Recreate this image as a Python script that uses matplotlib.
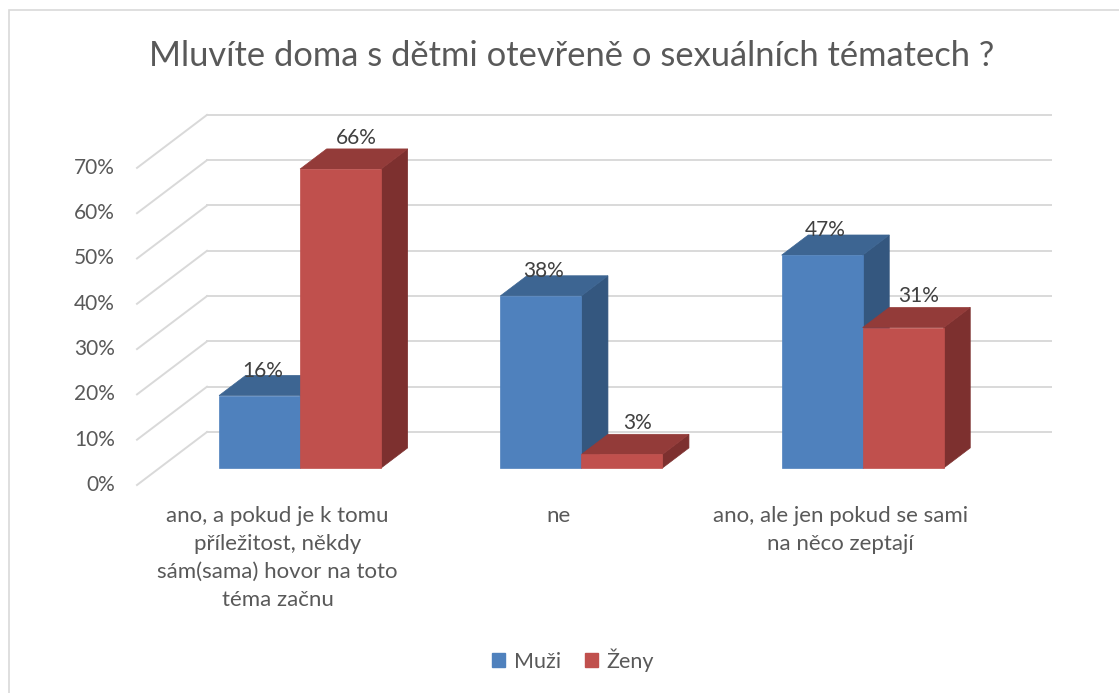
import matplotlib
matplotlib.use("Agg")
import matplotlib.pyplot as plt
from matplotlib.patches import Polygon, Rectangle, Patch

plt.rcParams['font.family'] = ['Lato', 'DejaVu Sans']

# data
categories = [
    "ano, a pokud je k tomu\npříležitost, někdy\nsám(sama) hovor na toto\ntéma začnu",
    "ne",
    "ano, ale jen pokud se sami\nna něco zeptají",
]
series_names = ["Muži", "Ženy"]
muzi = [16, 38, 47]
zeny = [66, 3, 31]
yticks = [0, 10, 20, 30, 40, 50, 60, 70]

# styles
front_colors = ["#4F81BD", "#C0504D"]
top_colors = ["#3D6592", "#933B39"]
side_colors = ["#34577F", "#7D302F"]
grid_color = "#D9D9D9"
text_color = "#595959"

W_PX, H_PX = 1119, 693
fig = plt.figure(figsize=(W_PX / 100, H_PX / 100), dpi=100)

# pixel -> data mapping of the plot (front floor edge spans 0..3 categories)
x0_px, cat_px = 137.0, 281.3
y0_px, pct_px = 485.0, 4.53
ax = fig.add_axes([0, 0, 1, 1])
ax.set_xlim((0 - x0_px) / cat_px, (W_PX - x0_px) / cat_px)
ax.set_ylim((y0_px - H_PX) / pct_px, (y0_px - 0) / pct_px)
ax.axis("off")

DX = 70 / cat_px      # full depth of the plot, x part
DY = 53 / pct_px      # full depth of the plot, y part
z_front, z_back = 0.32, 0.70
bar_w = 81 / cat_px
n = len(categories)

# walls
for v in yticks:
    ax.plot([DX, n + DX], [v + DY, v + DY], color=grid_color, lw=1.4, zorder=1)
    ax.plot([0, DX], [v, v + DY], color=grid_color, lw=1.4, zorder=1)
    ax.text(-0.078, v, f"{v}%", ha="right", va="center", fontsize=15,
            color=text_color)

label_dx = [0.01, 0.055]
label_dy = [-0.3, 1.1]

for i in range(n):
    for s, vals in enumerate([muzi, zeny]):
        v = vals[i]
        xl = i + 0.5 - bar_w + s * bar_w
        xr = xl + bar_w
        fx, fy = z_front * DX, z_front * DY
        bx, by = z_back * DX, z_back * DY
        side = Polygon([(xr + fx, fy), (xr + bx, by), (xr + bx, v + by), (xr + fx, v + fy)],
                       closed=True, facecolor=side_colors[s], edgecolor=side_colors[s],
                       lw=0.5, zorder=2)
        top = Polygon([(xl + fx, v + fy), (xr + fx, v + fy), (xr + bx, v + by), (xl + bx, v + by)],
                      closed=True, facecolor=top_colors[s], edgecolor=top_colors[s],
                      lw=0.5, zorder=2)
        front = Rectangle((xl + fx, fy), bar_w, v, facecolor=front_colors[s],
                          edgecolor=front_colors[s], lw=0.5, zorder=2)
        for p in (side, top, front):
            ax.add_patch(p)
        ax.text(xl + fx + bar_w / 2 + label_dx[s], v + by + label_dy[s], f"{v}%",
                ha="center", va="baseline", fontsize=15, color="#404040", zorder=3)
    ax.text(i + 0.5, -4.7, categories[i], ha="center", va="top", fontsize=16,
            color=text_color, linespacing=1.5)

fig.text(0.5105, 1 - 56 / H_PX, "Mluvíte doma s dětmi otevřeně o sexuálních tématech ?",
         ha="center", va="center", fontsize=24.8, color=text_color)

handles = [Patch(facecolor=c, edgecolor=c) for c in front_colors]
fig.legend(handles, series_names, loc="center", bbox_to_anchor=(573 / W_PX, 1 - 660 / H_PX),
           ncol=2, frameon=False, fontsize=15.5, handlelength=0.6, handleheight=0.6,
           handletextpad=0.4, columnspacing=1.1, labelcolor=text_color)

fig.add_artist(Rectangle((9 / W_PX, -0.1), 1.2, 1.1 - 10 / H_PX, fill=False,
                         edgecolor=grid_color, lw=1.2, transform=fig.transFigure))

fig.savefig("out.png", dpi=100)
